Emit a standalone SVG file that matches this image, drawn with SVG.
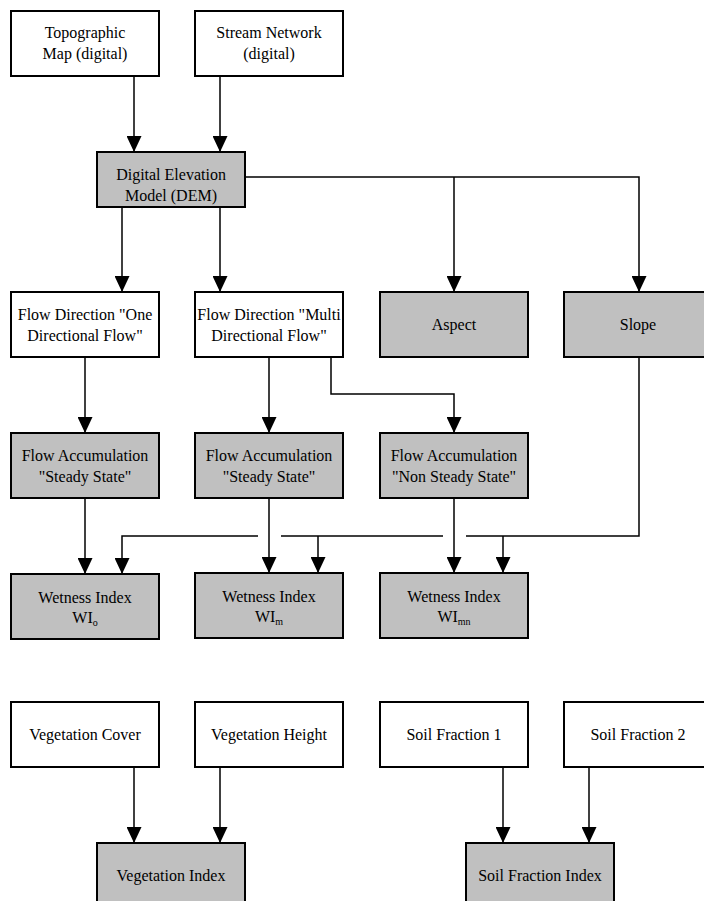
<svg xmlns="http://www.w3.org/2000/svg" width="704" height="901" viewBox="0 0 704 901">
<style>
.b{stroke:#000;stroke-width:2;fill:#fff}
.g{fill:#c0c0c0}
.c{stroke:#000;stroke-width:1.5;fill:none}
.a{marker-end:url(#ah)}
text{font-size:16px;fill:#000;text-anchor:middle}
.s{font-size:10px}
</style>
<defs>
<marker id="ah" viewBox="0 0 16 15" markerWidth="16" markerHeight="15" refX="16" refY="7.5" orient="auto" markerUnits="userSpaceOnUse">
<path d="M0,0 L16,7.5 L0,15 z" fill="#000"/>
</marker>
</defs>
<rect width="704" height="901" fill="#fff"/>
<g id="connectors">
<path class="c a" d="M134,76 V152"/>
<path class="c a" d="M220,76 V152"/>
<path class="c a" d="M246,177 H639 V292"/>
<path class="c a" d="M454,177 V292"/>
<path class="c a" d="M122,207 V292"/>
<path class="c a" d="M220,207 V292"/>
<path class="c a" d="M85,357 V433"/>
<path class="c a" d="M269,357 V433"/>
<path class="c a" d="M331,357 V394 H454 V433"/>
<path class="c a" d="M85,498 V574"/>
<path class="c a" d="M269,498 V573"/>
<path class="c a" d="M454,498 V573"/>
<path class="c" d="M639,357 V536 H466"/>
<path class="c" d="M443,536 H281"/>
<path class="c a" d="M258,536 H122 V574"/>
<path class="c a" d="M318,536 V573"/>
<path class="c a" d="M503,536 V573"/>
<path class="c a" d="M134,767 V843"/>
<path class="c a" d="M220,767 V843"/>
<path class="c a" d="M503,767 V843"/>
<path class="c a" d="M589,767 V843"/>
</g>
<g font-family="'Liberation Serif', 'Times New Roman', Times, 'DejaVu Serif', serif">
<g id="topo"><rect class="b" x="11" y="11" width="148" height="65"/><text x="85" y="38">Topographic</text><text x="85" y="59">Map (digital)</text></g>
<g id="stream"><rect class="b" x="195" y="11" width="148" height="65"/><text x="269" y="38">Stream Network</text><text x="269" y="59">(digital)</text></g>
<g id="dem"><rect class="b g" x="97" y="152" width="148" height="55"/><text x="171" y="180">Digital Elevation</text><text x="171" y="201">Model (DEM)</text></g>
<g id="flowdir1"><rect class="b" x="11" y="292" width="148" height="65"/><text x="85" y="320">Flow Direction "One</text><text x="85" y="341">Directional Flow"</text></g>
<g id="flowdir2"><rect class="b" x="195" y="292" width="148" height="65"/><text x="269" y="320">Flow Direction "Multi</text><text x="269" y="341">Directional Flow"</text></g>
<g id="aspect"><rect class="b g" x="380" y="292" width="148" height="65"/><text x="454" y="330">Aspect</text></g>
<g id="slope"><rect class="b g" x="564" y="292" width="148" height="65"/><text x="638" y="330">Slope</text></g>
<g id="acc1"><rect class="b g" x="11" y="433" width="148" height="65"/><text x="85" y="461">Flow Accumulation</text><text x="85" y="482">"Steady State"</text></g>
<g id="acc2"><rect class="b g" x="195" y="433" width="148" height="65"/><text x="269" y="461">Flow Accumulation</text><text x="269" y="482">"Steady State"</text></g>
<g id="acc3"><rect class="b g" x="380" y="433" width="148" height="65"/><text x="454" y="461">Flow Accumulation</text><text x="454" y="482">"Non Steady State"</text></g>
<g id="wio"><rect class="b g" x="11" y="574" width="148" height="65"/><text x="85" y="603">Wetness Index</text><text x="85" y="623">WI<tspan class="s" dy="3">o</tspan></text></g>
<g id="wim"><rect class="b g" x="195" y="573" width="148" height="65"/><text x="269" y="602">Wetness Index</text><text x="269" y="622">WI<tspan class="s" dy="3">m</tspan></text></g>
<g id="wimn"><rect class="b g" x="380" y="573" width="148" height="65"/><text x="454" y="602">Wetness Index</text><text x="454" y="622">WI<tspan class="s" dy="3">mn</tspan></text></g>
<g id="vegcover"><rect class="b" x="11" y="702" width="148" height="65"/><text x="85" y="740">Vegetation Cover</text></g>
<g id="vegheight"><rect class="b" x="195" y="702" width="148" height="65"/><text x="269" y="740">Vegetation Height</text></g>
<g id="vegindex"><rect class="b g" x="97" y="843" width="148" height="65"/><text x="171" y="881">Vegetation Index</text></g>
<g id="soil1"><rect class="b" x="380" y="702" width="148" height="65"/><text x="454" y="740">Soil Fraction 1</text></g>
<g id="soil2"><rect class="b" x="564" y="702" width="148" height="65"/><text x="638" y="740">Soil Fraction 2</text></g>
<g id="soilindex"><rect class="b g" x="466" y="843" width="148" height="65"/><text x="540" y="881">Soil Fraction Index</text></g>
</g>
</svg>
